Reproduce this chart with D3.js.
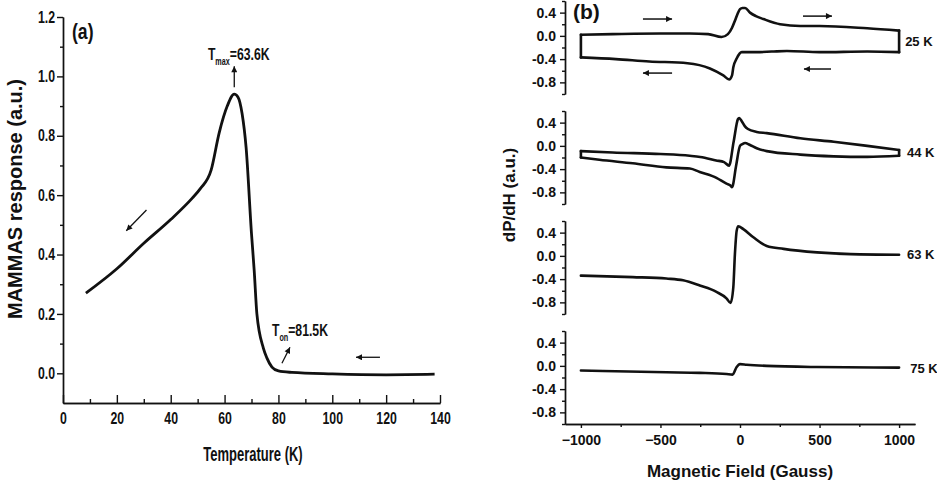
<!DOCTYPE html>
<html>
<head>
<meta charset="utf-8">
<script src="https://cdn.jsdelivr.net/npm/d3@7"></script>
<style>
  body { margin: 0; background: #fff; }
  svg { display: block; font-family: Arial, "Liberation Sans", sans-serif; }
</style>
</head>
<body>
<svg width="937" height="483"></svg>
<script>
// ---- panel (a): MAMMAS response vs temperature ----
const temperature = [8.5, 20, 30, 40, 48, 51, 55, 58, 61, 63.6, 65, 66.5, 68, 70, 71, 72, 74.4, 75.7, 77.6, 80, 85, 100, 120, 138];
const response = [0.27, 0.352, 0.438, 0.518, 0.59, 0.622, 0.684, 0.81, 0.9, 0.94, 0.93, 0.875, 0.76, 0.47, 0.347, 0.2, 0.085, 0.052, 0.021, 0.008, 0.003, -0.002, -0.005, -0.003];
const tempTicks = [0, 20, 40, 60, 80, 100, 120, 140];
const responseTicks = [0.0, 0.2, 0.4, 0.6, 0.8, 1.0, 1.2];

// ---- panel (b): dP/dH vs field, [field (G), signal] ----
const up25 = [[-1000, 0.02], [-800, 0.03], [-500, 0.04], [-316, 0.04], [-200, 0.03], [-116, -0.02], [-76, 0.03], [-50, 0.14], [-32, 0.26], [-15, 0.38], [0, 0.46], [15, 0.48], [32, 0.48], [63, 0.40], [100, 0.34], [147, 0.29], [252, 0.20], [379, 0.17], [500, 0.17], [800, 0.13], [1000, 0.09]];
const down25 = [[-1000, -0.37], [-780, -0.40], [-570, -0.44], [-330, -0.47], [-189, -0.56], [-105, -0.68], [-68, -0.75], [-50, -0.68], [-42, -0.54], [-21, -0.39], [11, -0.28], [105, -0.28], [200, -0.27], [295, -0.26], [500, -0.28], [800, -0.27], [1000, -0.28]];
const up44 = [[-1000, -0.09], [-800, -0.115], [-500, -0.14], [-316, -0.17], [-250, -0.19], [-150, -0.25], [-100, -0.28], [-69, -0.34], [-40, 0.07], [-13, 0.46], [-5, 0.48], [10, 0.43], [30, 0.34], [50, 0.29], [105, 0.24], [168, 0.22], [379, 0.13], [589, 0.07], [800, 0.0], [1000, -0.07]];
const down44 = [[-1000, -0.2], [-884, -0.24], [-674, -0.30], [-463, -0.37], [-315, -0.39], [-253, -0.45], [-148, -0.55], [-85, -0.65], [-60, -0.68], [-50, -0.71], [-25, -0.35], [0, 0.0], [15, 0.03], [32, 0.05], [60, 0.02], [105, -0.04], [168, -0.09], [379, -0.15], [589, -0.18], [800, -0.19], [1000, -0.17]];
const trace63 = [[-1000, -0.34], [-674, -0.365], [-463, -0.39], [-358, -0.42], [-253, -0.51], [-148, -0.62], [-85, -0.73], [-59, -0.81], [-42, -0.54], [-32, 0.03], [-21, 0.43], [-11, 0.51], [21, 0.46], [84, 0.32], [168, 0.17], [274, 0.12], [484, 0.06], [695, 0.03], [1000, 0.02]];
const trace75 = [[-1000, -0.08], [-463, -0.11], [-253, -0.12], [-85, -0.14], [-47, -0.15], [-21, -0.02], [0, 0.03], [42, 0.02], [168, 0.0], [484, -0.02], [1000, -0.03]];
const fieldTicks = [-1000, -500, 0, 500, 1000];
const signalTicks = [0.4, 0.0, -0.4, -0.8];
const sweepLabels = ["25 K", "44 K", "63 K", "75 K"];

const svg = d3.select("svg");
const ink = "#111";

const defs = svg.append("defs");
defs.append("marker").attr("id", "head")
  .attr("viewBox", "0 0 10 10").attr("refX", 10).attr("refY", 5)
  .attr("markerWidth", 7).attr("markerHeight", 6)
  .attr("markerUnits", "userSpaceOnUse").attr("orient", "auto")
  .append("path").attr("d", "M0,0L10,5L0,10Z").attr("fill", ink);
defs.append("marker").attr("id", "headB")
  .attr("viewBox", "0 0 10 10").attr("refX", 10).attr("refY", 5)
  .attr("markerWidth", 10).attr("markerHeight", 6)
  .attr("markerUnits", "userSpaceOnUse").attr("orient", "auto")
  .append("path").attr("d", "M0,0L10,5L0,10Z").attr("fill", ink);

function styleAxis(g) {
  g.selectAll("path, line").attr("stroke", ink).attr("stroke-width", 1.4);
  g.selectAll("text").attr("fill", ink);
}

// ================= panel (a) =================
const xA = d3.scaleLinear().domain([0, 140]).range([63, 440]);
const yA = d3.scaleLinear().domain([-0.1, 1.2]).range([403, 17]);
const squeeze = 0.77;

const gA = svg.append("g");

// minor ticks
gA.append("g").attr("transform", `translate(0,${yA(-0.1)})`)
  .call(d3.axisBottom(xA).tickValues(d3.range(10, 140, 20)).tickSizeInner(-4).tickSizeOuter(0).tickFormat(""))
  .call(styleAxis);
gA.append("g").attr("transform", `translate(${xA(0)},0)`)
  .call(d3.axisLeft(yA).tickValues(d3.range(0.1, 1.2, 0.2)).tickSizeInner(3).tickSizeOuter(0).tickFormat(""))
  .call(styleAxis);

// major axes
gA.append("g").attr("transform", `translate(0,${yA(-0.1)})`)
  .call(d3.axisBottom(xA).tickValues(tempTicks).tickSizeInner(-8).tickSizeOuter(0).tickPadding(10).tickFormat(d3.format("d")))
  .call(styleAxis)
  .call(g => g.selectAll("text").attr("font-size", 16).attr("font-weight", "bold")
    .attr("transform", `scale(${squeeze},1)`));
gA.append("g").attr("transform", `translate(${xA(0)},0)`)
  .call(d3.axisLeft(yA).tickValues(responseTicks).tickSizeInner(6).tickSizeOuter(0).tickFormat(d => d.toFixed(1)))
  .call(styleAxis)
  .call(g => g.selectAll("text").attr("font-size", 16).attr("font-weight", "bold")
    .attr("x", -8 / squeeze).attr("transform", `scale(${squeeze},1)`));

// curve
const lineA = d3.line().x((d, i) => xA(temperature[i])).y(d => yA(d)).curve(d3.curveMonotoneX);
gA.append("path").datum(response)
  .attr("d", lineA).attr("fill", "none").attr("stroke", ink)
  .attr("stroke-width", 2.8).attr("stroke-linejoin", "round");

// arrows [t0, v0, t1, v1]
const arrowsA = [[31, 0.55, 23.5, 0.48], [63.6, 0.963, 63.6, 1.034], [81.3, 0.034, 84.3, 0.088], [117.7, 0.054, 108.8, 0.054]];
gA.selectAll(".arrowA").data(arrowsA).join("line")
  .attr("x1", d => xA(d[0])).attr("y1", d => yA(d[1]))
  .attr("x2", d => xA(d[2])).attr("y2", d => yA(d[3]))
  .attr("stroke", ink).attr("stroke-width", 1.3).attr("marker-end", "url(#head)");

function subText(g, x, y, main, sub, rest) {
  const t = g.append("text")
    .attr("transform", `translate(${x},${y}) scale(0.72,1)`)
    .attr("font-size", 17).attr("font-weight", "bold").attr("fill", ink);
  t.append("tspan").text(main);
  t.append("tspan").attr("font-size", 10).attr("dy", 5).text(sub);
  t.append("tspan").attr("dy", -5).text(rest);
}
subText(gA, xA(53.8), yA(1.054), "T", "max", "=63.6K");
subText(gA, xA(77.6), yA(0.125), "T", "on", "=81.5K");

gA.append("text").attr("transform", `translate(72,39) scale(0.8,1)`)
  .attr("font-size", 22).attr("font-weight", "bold").attr("fill", ink).text("(a)");

gA.append("text").attr("transform", "translate(22,199) rotate(-90)")
  .attr("text-anchor", "middle").attr("font-size", 20).attr("font-weight", "bold")
  .attr("fill", ink).text("MAMMAS response (a.u.)");

gA.append("text").attr("transform", "translate(253,461) scale(0.65,1)")
  .attr("text-anchor", "middle").attr("font-size", 20).attr("font-weight", "bold")
  .attr("fill", ink).text("Temperature (K)");

// ================= panel (b) =================
const xB = d3.scaleLinear().domain([-1100, 1100]).range([565, 915]);
const panelTops = [1, 111, 221, 331];
const panelH = 93;
const labelPos = [[1038, -0.166], [1050, -0.183], [1050, -0.062], [1070, -0.131]];
const sweeps = [[up25, down25], [up44, down44], [trace63], [trace75]];
const arrows25 = [[-610, -427, 0.29], [396, 578, 0.34], [-427, -610, -0.64], [572, 402, -0.57]];

const gB = svg.append("g");

sweeps.forEach((branches, i) => {
  const yB = d3.scaleLinear().domain([-1.0, 0.6]).range([panelTops[i] + panelH, panelTops[i]]);
  const g = gB.append("g");

  g.append("g").attr("transform", `translate(${xB(-1100)},0)`)
    .call(d3.axisLeft(yB).tickValues([0.6, 0.2, -0.2, -0.6, -1.0]).tickSizeInner(3).tickSizeOuter(0).tickFormat(""))
    .call(styleAxis);
  g.append("g").attr("transform", `translate(${xB(-1100)},0)`)
    .call(d3.axisLeft(yB).tickValues(signalTicks).tickSizeInner(5).tickSizeOuter(0).tickPadding(4).tickFormat(d => d.toFixed(1)))
    .call(styleAxis)
    .call(g => g.selectAll("text").attr("font-size", 14).attr("font-weight", "bold"));

  if (i === sweeps.length - 1) {
    g.append("g").attr("transform", `translate(0,${yB(-1.0)})`)
      .call(d3.axisBottom(xB).tickValues([-750, -250, 250, 750]).tickSizeInner(3).tickSizeOuter(0).tickFormat(""))
      .call(styleAxis);
    g.append("g").attr("transform", `translate(0,${yB(-1.0)})`)
      .call(d3.axisBottom(xB).tickValues(fieldTicks).tickSizeInner(4).tickSizeOuter(0).tickPadding(7).tickFormat(d3.format("d")))
      .call(styleAxis)
      .call(g => g.selectAll("text").attr("font-size", 14).attr("font-weight", "bold"));
  }

  const line = d3.line().x(d => xB(d[0])).y(d => yB(d[1])).curve(d3.curveMonotoneX);
  branches.forEach(b => {
    g.append("path").datum(b).attr("d", line)
      .attr("fill", "none").attr("stroke", ink).attr("stroke-width", 2.6)
      .attr("stroke-linejoin", "round").attr("stroke-linecap", "round");
  });
  if (branches.length === 2) {
    const [up, down] = branches;
    const ends = [[up[0], down[0]], [up[up.length - 1], down[down.length - 1]]];
    g.selectAll(".edge").data(ends).join("path")
      .attr("d", d3.line().x(d => xB(d[0])).y(d => yB(d[1])))
      .attr("fill", "none").attr("stroke", ink).attr("stroke-width", 2.6)
      .attr("stroke-linecap", "round");
  }

  if (i === 0) {
    g.selectAll(".arrowB").data(arrows25).join("line")
      .attr("x1", d => xB(d[0])).attr("x2", d => xB(d[1]))
      .attr("y1", d => yB(d[2])).attr("y2", d => yB(d[2]))
      .attr("stroke", ink).attr("stroke-width", 1.5).attr("marker-end", "url(#headB)");
  }

  g.append("text").attr("x", xB(labelPos[i][0])).attr("y", yB(labelPos[i][1]))
    .attr("font-size", 13).attr("font-weight", "bold").attr("fill", ink)
    .text(sweepLabels[i]);
});

gB.append("text").attr("x", 573).attr("y", 19)
  .attr("font-size", 21).attr("font-weight", "bold").attr("fill", ink).text("(b)");

gB.append("text").attr("transform", "translate(515,195) rotate(-90)")
  .attr("text-anchor", "middle").attr("font-size", 17).attr("font-weight", "bold")
  .attr("fill", ink).text("dP/dH (a.u.)");

gB.append("text").attr("x", xB(0)).attr("y", 477)
  .attr("text-anchor", "middle").attr("font-size", 17).attr("font-weight", "bold")
  .attr("fill", ink).text("Magnetic Field (Gauss)");
</script>
</body>
</html>
